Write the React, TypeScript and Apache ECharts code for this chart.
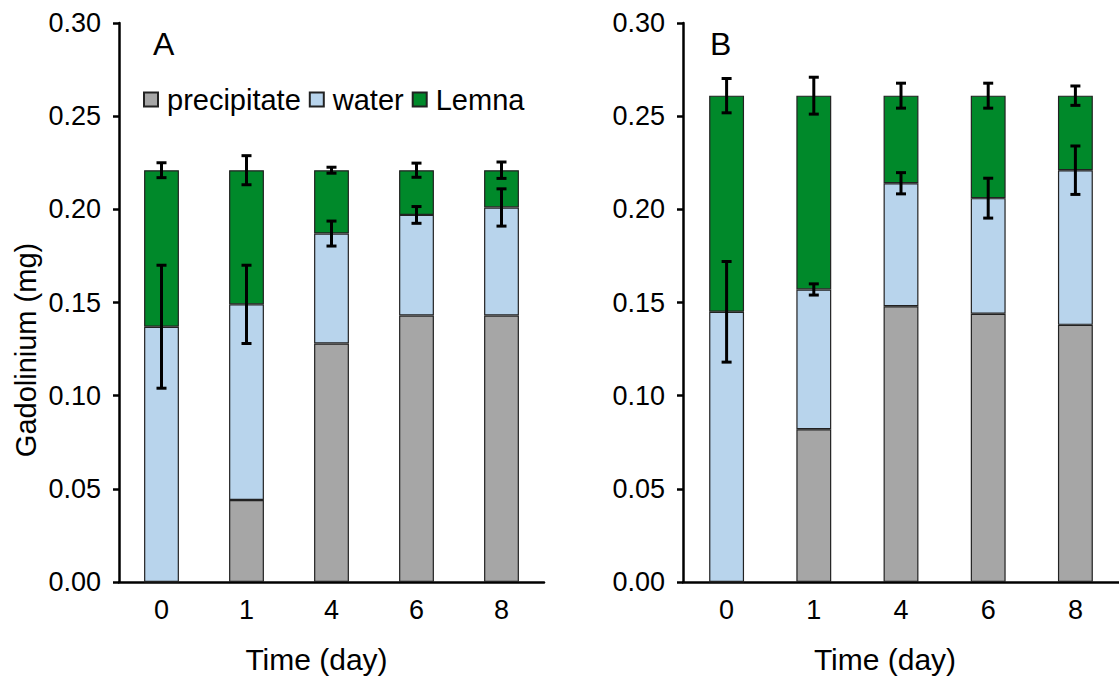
import React, { useEffect, useRef } from "react";
import * as echarts from "echarts";

const categories = ["0", "1", "4", "6", "8"];
const seriesNames = ["precipitate", "water", "Lemna"];

// Panel A
const precipA = [0, 0.044, 0.128, 0.143, 0.143];
const waterA = [0.137, 0.105, 0.059, 0.054, 0.058];
const lemnaA = [0.084, 0.072, 0.034, 0.024, 0.020];
const errWaterA = [0.033, 0.021, 0.0067, 0.0045, 0.01];
const errTotalA = [0.004, 0.0078, 0.0016, 0.0038, 0.0044];

// Panel B
const precipB = [0, 0.082, 0.148, 0.144, 0.138];
const waterB = [0.145, 0.075, 0.066, 0.062, 0.083];
const lemnaB = [0.116, 0.104, 0.047, 0.055, 0.040];
const errWaterB = [0.027, 0.003, 0.0057, 0.0107, 0.013];
const errTotalB = [0.0092, 0.0099, 0.0067, 0.0067, 0.0052];

const yTicks = { min: 0, max: 0.3, interval: 0.05 };

const FONT = "'Liberation Sans', Arial, sans-serif";
const COLORS = ["#a6a6a6", "#b8d4ec", "#00892a"];

export default function App() {
  const ref = useRef<HTMLDivElement>(null);

  useEffect(() => {
    if (!ref.current) return;
    const chart = echarts.init(ref.current, undefined, { renderer: "svg" });

    const errRender = (params: any, api: any) => {
      const x = api.value(0);
      const y = api.value(1);
      const e = api.value(2);
      const top = api.coord([x, y + e]);
      const bot = api.coord([x, y - e]);
      const hw = 5;
      const st = { stroke: "#000", lineWidth: 3 };
      return {
        type: "group",
        children: [
          { type: "line", shape: { x1: top[0], y1: top[1], x2: bot[0], y2: bot[1] }, style: st },
          { type: "line", shape: { x1: top[0] - hw, y1: top[1], x2: top[0] + hw, y2: top[1] }, style: st },
          { type: "line", shape: { x1: bot[0] - hw, y1: bot[1], x2: bot[0] + hw, y2: bot[1] }, style: st },
        ],
      };
    };

    const makeAxes = (idx: number, nameShift: number) => ({
      x: {
        type: "category",
        gridIndex: idx,
        data: categories,
        boundaryGap: true,
        axisLine: { lineStyle: { color: "#000", width: 2.5 } },
        axisTick: { inside: false, length: 7, lineStyle: { color: "#000", width: 2.5 } },
        axisLabel: { color: "#000", fontSize: 27, fontFamily: FONT, margin: 14 },
        name: "Time (day)",
        nameLocation: "middle",
        nameGap: 62,
        nameTextStyle: { color: "#000", fontSize: 30, fontFamily: FONT, padding: [0, nameShift, 0, 0] },
        splitLine: { show: false },
      },
      y: {
        type: "value",
        gridIndex: idx,
        min: yTicks.min,
        max: yTicks.max,
        interval: yTicks.interval,
        axisLine: { show: true, lineStyle: { color: "#000", width: 2.5 } },
        axisTick: { show: true, inside: false, length: 6, lineStyle: { color: "#000", width: 2.5 } },
        axisLabel: {
          color: "#000",
          fontSize: 27,
          fontFamily: FONT,
          margin: 18,
          formatter: (v: number) => v.toFixed(2),
        },
        splitLine: { show: false },
      },
    });

    const axA = makeAxes(0, 30);
    const axB = makeAxes(1, 32);

    const barSeries = (idx: number, arrs: number[][], width: string) =>
      arrs.map((arr, k) => ({
        name: seriesNames[k],
        type: "bar",
        stack: "s" + idx,
        xAxisIndex: idx,
        yAxisIndex: idx,
        data: arr,
        barWidth: width,
        itemStyle: { color: COLORS[k], borderColor: "#222", borderWidth: 1.2 },
      }));

    const errSeries = (idx: number, precip: number[], water: number[], lemna: number[], ew: number[], et: number[]) => ({
      type: "custom",
      xAxisIndex: idx,
      yAxisIndex: idx,
      z: 10,
      renderItem: errRender,
      data: [
        ...categories.map((_, i) => [i, precip[i] + water[i], ew[i]]),
        ...categories.map((_, i) => [i, precip[i] + water[i] + lemna[i], et[i]]),
      ],
      silent: true,
    });

    chart.setOption({
      animation: false,
      backgroundColor: "#fff",
      textStyle: { fontFamily: FONT },
      grid: [
        { left: 119, top: 23, width: 425, height: 564 },
        { left: 683, top: 23, width: 450, height: 560 },
      ],
      xAxis: [axA.x, axB.x],
      yAxis: [axA.y, axB.y],
      legend: {
        data: seriesNames,
        left: 138,
        top: 80,
        itemWidth: 14,
        itemHeight: 14,
        itemGap: 8,
        icon: "rect",
        selectedMode: false,
        textStyle: { color: "#000", fontSize: 29, fontFamily: FONT, padding: [0, 0, 0, 4] },
      },
      graphic: [
        { type: "text", left: 153, top: 28, style: { text: "A", fontSize: 32, fontFamily: FONT, fill: "#000" } },
        { type: "text", left: 710, top: 28, style: { text: "B", fontSize: 32, fontFamily: FONT, fill: "#000" } },
        {
          type: "text",
          x: 26,
          y: 350,
          rotation: Math.PI / 2,
          style: {
            text: "Gadolinium (mg)",
            fontSize: 29,
            fontFamily: FONT,
            fill: "#000",
            align: "center",
            verticalAlign: "middle",
          },
        },
      ],
      series: [
        ...barSeries(0, [precipA, waterA, lemnaA], "41%"),
        ...barSeries(1, [precipB, waterB, lemnaB], "40%"),
        errSeries(0, precipA, waterA, lemnaA, errWaterA, errTotalA),
        errSeries(1, precipB, waterB, lemnaB, errWaterB, errTotalB),
      ],
    });

    return () => chart.dispose();
  }, []);

  return (
    <div
      ref={ref}
      style={{ position: "absolute", left: 0, top: 0, width: 1119, height: 679 }}
    />
  );
}
